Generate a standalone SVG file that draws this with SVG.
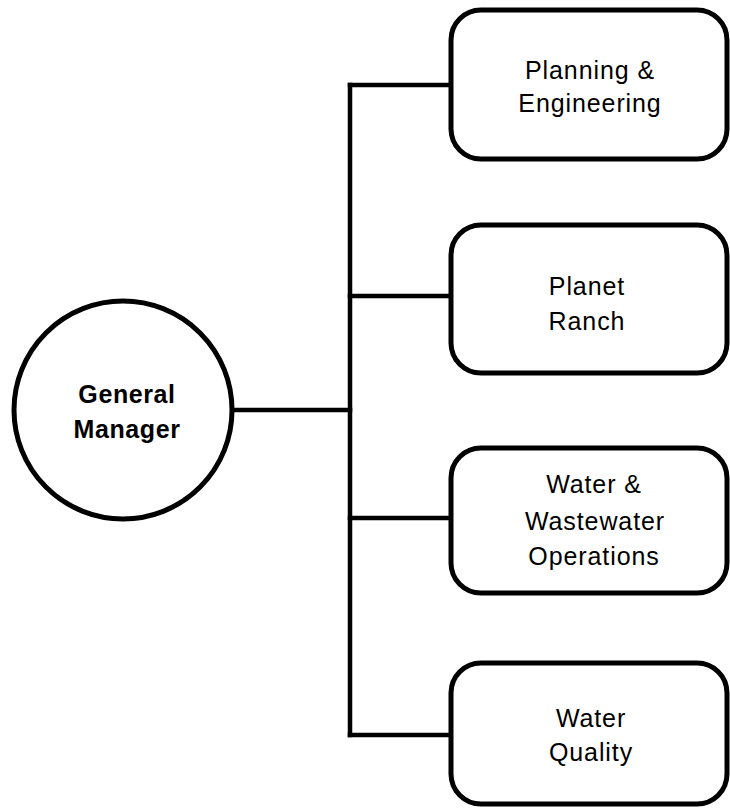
<svg xmlns="http://www.w3.org/2000/svg" width="730" height="809" viewBox="0 0 730 809">
  <style>
    .box { fill: #ffffff; stroke: #000000; stroke-width: 5; }
    .line { fill: none; stroke: #000000; stroke-width: 4.5; stroke-linecap: square; }
    .lbl { font-family: "Liberation Sans", Arial, sans-serif; font-size: 25px; letter-spacing: 0.9px; text-anchor: middle; fill: #000000; }
    .head { font-family: "Liberation Sans", Arial, sans-serif; font-size: 25px; font-weight: bold; letter-spacing: 0.6px; text-anchor: middle; fill: #000000; }
  </style>
  <rect width="730" height="809" fill="#ffffff"/>

  <!-- connectors: trunk from the circle, spine, and one branch per unit -->
  <g id="connectors">
    <line class="line" x1="233" y1="410" x2="350" y2="410"/>
    <line class="line" x1="350" y1="85" x2="350" y2="735"/>
    <line class="line" x1="350" y1="85" x2="450" y2="85"/>
    <line class="line" x1="350" y1="296" x2="450" y2="296"/>
    <line class="line" x1="350" y1="518" x2="450" y2="518"/>
    <line class="line" x1="350" y1="735" x2="450" y2="735"/>
  </g>

  <g id="general-manager">
    <circle class="box" cx="123" cy="410" r="109" stroke-width="4.5"/>
    <text class="head" x="127" y="403">General</text>
    <text class="head" x="127" y="438">Manager</text>
  </g>

  <g id="planning-engineering">
    <rect class="box" x="451" y="10" width="276" height="149" rx="30" ry="30"/>
    <text class="lbl" x="590" y="79">Planning &amp;</text>
    <text class="lbl" x="590" y="112">Engineering</text>
  </g>

  <g id="planet-ranch">
    <rect class="box" x="451" y="225" width="276" height="148" rx="30" ry="30"/>
    <text class="lbl" x="587" y="295">Planet</text>
    <text class="lbl" x="587" y="330">Ranch</text>
  </g>

  <g id="water-wastewater-operations">
    <rect class="box" x="451" y="448" width="276" height="145" rx="30" ry="30"/>
    <text class="lbl" x="594" y="493">Water &amp;</text>
    <text class="lbl" x="595" y="530">Wastewater</text>
    <text class="lbl" x="594" y="565">Operations</text>
  </g>

  <g id="water-quality">
    <rect class="box" x="451" y="663" width="276" height="141" rx="30" ry="30"/>
    <text class="lbl" x="591" y="727">Water</text>
    <text class="lbl" x="591" y="761">Quality</text>
  </g>
</svg>
